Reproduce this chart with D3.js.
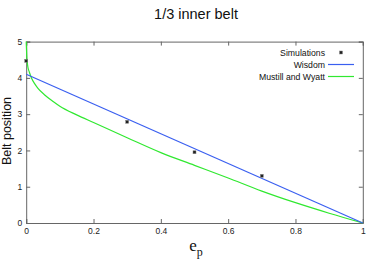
<!DOCTYPE html>
<html><head><meta charset="utf-8">
<script src="https://cdn.jsdelivr.net/npm/d3@7"></script>
<style>body{margin:0;background:#fff}svg{display:block}</style>
</head><body>
<script>
const title = "1/3 inner belt";
const xTicks = [0, 0.2, 0.4, 0.6, 0.8, 1];
const yTicks = [0, 1, 2, 3, 4, 5];
const simE = [0, 0.3, 0.5, 0.7];
const simPos = [4.47, 2.79, 1.95, 1.30];
const wisdomE = [0, 1];
const wisdomPos = [4.1, 0];
const mwE = [0, 0.002, 0.005, 0.009, 0.016, 0.025, 0.035, 0.055, 0.08, 0.1, 0.15, 0.2, 0.3, 0.4, 0.5, 0.6, 0.7, 0.8, 0.9, 1];
const mwPos = [5, 4.55, 4.3, 4.17, 3.99, 3.84, 3.71, 3.53, 3.35, 3.22, 2.98, 2.77, 2.35, 1.94, 1.59, 1.24, 0.88, 0.56, 0.27, 0];
const legendLabels = ["Simulations", "Wisdom", "Mustill and Wyatt"];
const colors = {wisdom: "#3a5ff0", mw: "#30e830", sim: "#222"};

const W = 374, H = 263;
const m = {l: 26.2, r: 374 - 362.8, t: 41.6, b: 263 - 223};
const svg = d3.select("body").append("svg").attr("width", W).attr("height", H);
const x = d3.scaleLinear().domain([0, 1]).range([m.l, W - m.r]);
const y = d3.scaleLinear().domain([0, 5]).range([H - m.b, m.t]);
const font = "Liberation Sans, Arial, sans-serif";

// title
svg.append("text").attr("x", 196).attr("y", 18.5).attr("text-anchor", "middle")
  .attr("font-family", font).attr("font-size", 14.5).attr("fill", "#111").text(title);

const frameColor = "#666";
const tl = 4;
const fmt = d3.format("");
const gx = svg.append("g").attr("transform", `translate(0,${y(0)})`)
  .call(d3.axisBottom(x).tickValues(xTicks).tickSize(-tl).tickPadding(6).tickFormat(d => fmt(d)));
const gxt = svg.append("g").attr("transform", `translate(0,${y(5)})`)
  .call(d3.axisTop(x).tickValues(xTicks).tickSize(-tl).tickFormat(""));
const gy = svg.append("g").attr("transform", `translate(${x(0)},0)`)
  .call(d3.axisLeft(y).tickValues(yTicks).tickSize(-tl).tickPadding(4).tickFormat(d3.format("d")));
const gyr = svg.append("g").attr("transform", `translate(${x(1)},0)`)
  .call(d3.axisRight(y).tickValues(yTicks).tickSize(-tl).tickFormat(""));
[gx, gxt, gy, gyr].forEach(g => {
  g.select(".domain").attr("stroke", frameColor).attr("stroke-width", 1);
  g.selectAll(".tick line").attr("stroke", frameColor);
  g.selectAll("text").attr("font-family", font).attr("font-size", 8.5).attr("fill", "#222");
});
gx.selectAll(".tick text").attr("dy", "0.6em");

// lines
svg.append("path").datum(mwE.map((e, i) => [e, mwPos[i]]))
  .attr("d", d3.line().x(d => x(d[0])).y(d => y(d[1])).curve(d3.curveMonotoneX))
  .attr("fill", "none").attr("stroke", colors.mw).attr("stroke-width", 1.2);
svg.append("path").datum(wisdomE.map((e, i) => [e, wisdomPos[i]]))
  .attr("d", d3.line().x(d => x(d[0])).y(d => y(d[1])))
  .attr("fill", "none").attr("stroke", colors.wisdom).attr("stroke-width", 1.2);

// simulation points
svg.selectAll("rect.sim").data(simE.map((e, i) => [e, simPos[i]])).enter().append("rect")
  .attr("x", d => x(d[0]) - 1.5).attr("y", d => y(d[1]) - 1.5).attr("width", 3).attr("height", 3)
  .attr("fill", colors.sim).attr("stroke", "#888").attr("stroke-width", 0.5);

// legend
const lg = svg.append("g");
const ly = [52.5, 64.5, 76.5];
legendLabels.forEach((t, i) => {
  lg.append("text").attr("x", 325).attr("y", ly[i]).attr("dy", "0.35em").attr("text-anchor", "end")
    .attr("font-family", font).attr("font-size", 8.7).attr("fill", "#111").text(t);
});
lg.append("rect").attr("x", 339.5).attr("y", ly[0] - 1.5).attr("width", 3).attr("height", 3)
  .attr("fill", colors.sim).attr("stroke", "#888").attr("stroke-width", 0.5);
lg.append("line").attr("x1", 328).attr("x2", 354).attr("y1", ly[1]).attr("y2", ly[1])
  .attr("stroke", colors.wisdom).attr("stroke-width", 1.2);
lg.append("line").attr("x1", 328).attr("x2", 354).attr("y1", ly[2]).attr("y2", ly[2])
  .attr("stroke", colors.mw).attr("stroke-width", 1.2);

// axis labels
svg.append("text").attr("transform", `translate(10.5,131) rotate(-90)`).attr("text-anchor", "middle")
  .attr("font-family", font).attr("font-size", 12.5).attr("fill", "#111").text("Belt position");
const xl = svg.append("text").attr("x", 196).attr("y", 251).attr("text-anchor", "middle")
  .attr("font-family", "Liberation Serif, Times New Roman, serif").attr("font-size", 17).attr("fill", "#111");
xl.append("tspan").text("e");
xl.append("tspan").attr("font-size", 12).attr("dy", 4.5).text("p");
</script>
</body></html>
